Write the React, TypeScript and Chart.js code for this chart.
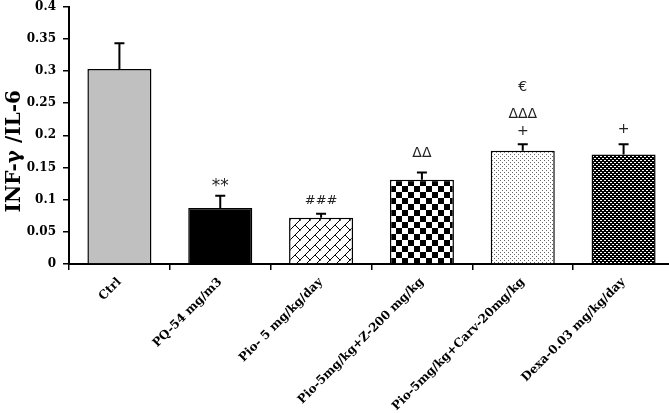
import React, { useEffect, useRef } from "react";
import { Chart, registerables } from "chart.js";

Chart.register(...registerables);

const categories = [
  "Ctrl",
  "PQ-54 mg/m3",
  "Pio- 5 mg/kg/day",
  "Pio-5mg/kg+Z-200 mg/kg",
  "Pio-5mg/kg+Carv-20mg/kg",
  "Dexa-0.03 mg/kg/day",
];
const means = [0.303, 0.087, 0.072, 0.131, 0.176, 0.17];
const errors = [0.04, 0.019, 0.006, 0.011, 0.01, 0.016];
const annotations: string[][] = [[], ["**"], ["###"], ["ΔΔ"], ["€", "ΔΔΔ", "+"], ["+"]];
const yTicks = [0, 0.05, 0.1, 0.15, 0.2, 0.25, 0.3, 0.35, 0.4];
const yTitle = "INF-γ /IL-6";

// style constants
const annotGap = [0, 5, 10, 16, 9, 11];
const stackSteps = [17, 27];

function makePattern(w: number, h: number, draw: (c: CanvasRenderingContext2D) => void) {
  const cv = document.createElement("canvas");
  cv.width = w;
  cv.height = h;
  const c = cv.getContext("2d")!;
  draw(c);
  return c.createPattern(cv, "repeat")!;
}

export default function App() {
  const ref = useRef<HTMLCanvasElement>(null);
  useEffect(() => {
    const canvas = ref.current!;
    const ctx = canvas.getContext("2d")!;

    const brick = makePattern(10, 10, (c) => {
      c.fillStyle = "#fff";
      c.fillRect(0, 0, 10, 10);
      c.strokeStyle = "#000";
      c.lineWidth = 1;
      c.beginPath();
      c.moveTo(-1, 11);
      c.lineTo(11, -1);
      c.moveTo(5, 5);
      c.lineTo(11, 11);
      c.moveTo(-1, -1);
      c.lineTo(0.5, 0.5);
      c.stroke();
    });
    const checker = makePattern(12, 12, (c) => {
      c.fillStyle = "#fff";
      c.fillRect(0, 0, 12, 12);
      c.fillStyle = "#000";
      c.fillRect(0, 0, 6, 6);
      c.fillRect(6, 6, 6, 6);
    });
    const dots = makePattern(4, 4, (c) => {
      c.fillStyle = "#fff";
      c.fillRect(0, 0, 4, 4);
      c.fillStyle = "#666";
      c.fillRect(0, 0, 1, 1);
      c.fillRect(2, 2, 1, 1);
    });
    const darkDots = makePattern(4, 4, (c) => {
      c.fillStyle = "#000";
      c.fillRect(0, 0, 4, 4);
      c.fillStyle = "#fff";
      c.fillRect(0, 0, 2, 1);
      c.fillRect(2, 2, 2, 1);
    });

    const fills: any[] = ["#c0c0c0", "#000000", brick, checker, dots, darkDots];

    const overlay = {
      id: "overlay",
      afterDatasetsDraw(chart: any) {
        const meta = chart.getDatasetMeta(0);
        const y = chart.scales.y;
        const c = chart.ctx;
        c.save();
        means.forEach((m, i) => {
          const x = meta.data[i].x;
          const yb = y.getPixelForValue(m);
          const yt = y.getPixelForValue(m + errors[i]);
          c.strokeStyle = "#000";
          c.lineWidth = 2;
          c.beginPath();
          c.moveTo(x, yb);
          c.lineTo(x, yt);
          c.moveTo(x - 5, yt);
          c.lineTo(x + 5, yt);
          c.stroke();
          const lines = annotations[i];
          let base = yt - annotGap[i];
          c.fillStyle = "#222";
          c.textAlign = "center";
          c.textBaseline = "alphabetic";
          for (let k = lines.length - 1, s = 0; k >= 0; k--, s++) {
            const t = lines[k];
            c.font = t.includes("*")
              ? "17px 'DejaVu Sans', sans-serif"
              : t.includes("#")
              ? "13px 'DejaVu Sans', sans-serif"
              : "14px 'DejaVu Sans', sans-serif";
            c.fillText(t, x, base);
            base -= stackSteps[s] ?? 20;
          }
        });
        // y axis title
        const yc = (y.top + y.bottom) / 2 + 16;
        c.translate(15, yc);
        c.rotate(-Math.PI / 2);
        c.fillStyle = "#000";
        c.font = "bold 20px 'DejaVu Serif', serif";
        c.textAlign = "center";
        c.textBaseline = "middle";
        c.fillText(yTitle, 0, 0);
        c.restore();
      },
    };

    const chart = new Chart(ctx, {
      type: "bar",
      data: {
        labels: categories,
        datasets: [
          {
            data: means,
            backgroundColor: fills,
            borderColor: "#000",
            borderWidth: 1.5,
            barPercentage: 0.635,
            categoryPercentage: 1,
          },
        ],
      },
      options: {
        responsive: false,
        animation: false,
        devicePixelRatio: 1,
        layout: { padding: 0 },
        plugins: { legend: { display: false }, tooltip: { enabled: false } },
        scales: {
          x: {
            grid: {
              offset: true,
              drawOnChartArea: false,
              drawTicks: true,
              tickLength: 6,
              color: "#000",
              lineWidth: 1.5,
            },
            border: { display: true, color: "#000", width: 2 },
            ticks: {
              maxRotation: 45,
              minRotation: 45,
              color: "#000",
              padding: 5,
              font: { family: "'DejaVu Serif', serif", weight: "bold", size: 12 },
              autoSkip: false,
            },
            afterFit(scale: any) {
              scale.height = 149;
              scale.paddingLeft = 0;
              scale.paddingRight = 0;
            },
          },
          y: {
            min: 0,
            max: 0.4,
            afterBuildTicks(scale: any) {
              scale.ticks = yTicks.map((v) => ({ value: v }));
            },
            grid: {
              drawOnChartArea: false,
              drawTicks: true,
              tickLength: 6,
              color: "#000",
              lineWidth: 1.5,
            },
            border: { display: true, color: "#000", width: 2 },
            ticks: {
              color: "#000",
              padding: 7,
              font: { family: "'DejaVu Serif', serif", weight: "bold", size: 12 },
              callback: (v: any) => String(Number(Number(v).toFixed(2))),
            },
            title: { display: false },
            afterFit(scale: any) {
              scale.width = 69;
              scale.paddingTop = 6.5;
              scale.paddingBottom = 0;
            },
          },
        },
      },
      plugins: [overlay],
    });
    return () => chart.destroy();
  }, []);

  return (
    <div style={{ position: "fixed", left: 0, top: 0, width: 669, height: 413, overflow: "hidden", background: "#fff" }}>
      <canvas ref={ref} width={674} height={413} style={{ width: 674, height: 413, display: "block" }} />
    </div>
  );
}
